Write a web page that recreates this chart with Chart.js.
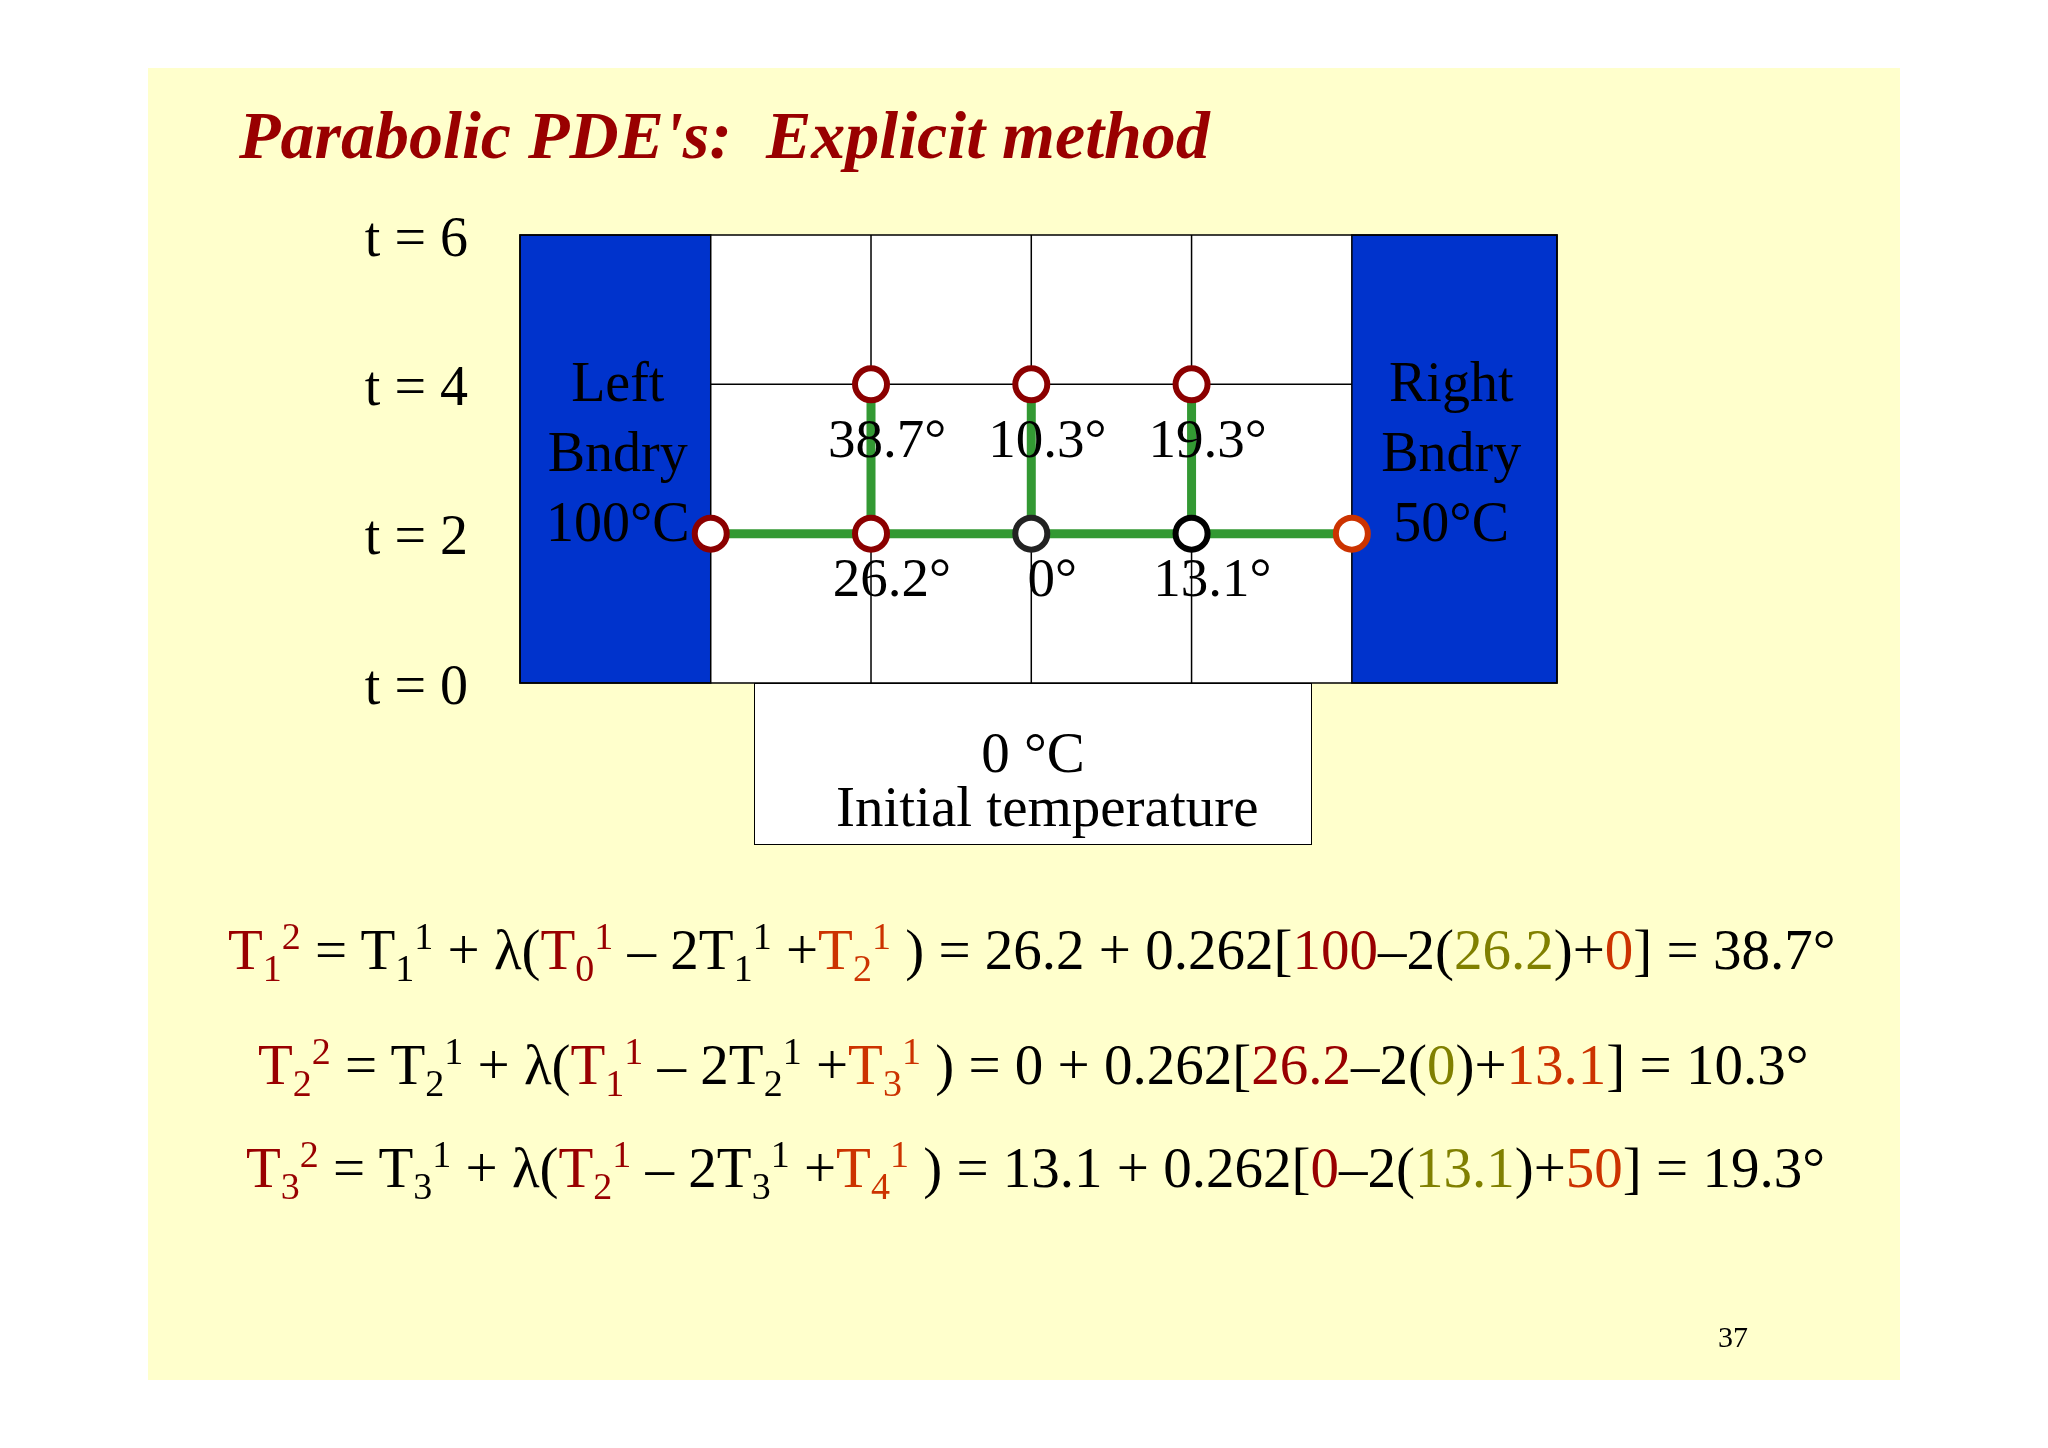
<!DOCTYPE html>
<html>
<head>
<meta charset="utf-8">
<script src="https://cdn.jsdelivr.net/npm/chart.js@4/dist/chart.umd.min.js"></script>
<style>
  body{margin:0;width:2048px;height:1448px;background:#fff;position:relative;overflow:hidden;font-family:"Liberation Serif","DejaVu Serif",serif}
  #slide{position:absolute;left:148px;top:68px;width:1752px;height:1312px;background:#FFFFCC}
  #title{position:absolute;left:239px;top:96px;font-size:68px;font-weight:bold;font-style:italic;color:#990000}
  #wrap{position:absolute;left:0;top:0;width:2048px;height:1448px}
  .eq{position:absolute;font-size:57px;white-space:nowrap;color:#000}
  .r{color:#990000}.o{color:#CC3300}.g{color:#808000}
  sub,sup{font-size:38px}
  #box{position:absolute;left:754px;top:683px;width:558px;height:162px;background:#fff;border:1.5px solid #000;box-sizing:border-box;text-align:center;font-size:57px;line-height:54px;padding-top:42px}
  #pg{position:absolute;left:1718px;top:1320px;font-size:30px}
</style>
</head>
<body>
<div id="slide"></div>
<div id="title">Parabolic PDE's:&nbsp; Explicit method</div>
<div id="box">0 °C<br>&nbsp;&nbsp;Initial temperature</div>
<div id="wrap"><canvas id="grafico"></canvas></div>
<div class="eq" style="left:228px;top:914px"><span class="r">T<sub>1</sub><sup>2</sup></span> = T<sub>1</sub><sup>1</sup> + λ(<span class="r">T<sub>0</sub><sup>1</sup></span> – 2T<sub>1</sub><sup>1</sup> +<span class="o">T<sub>2</sub><sup>1</sup></span> ) = 26.2 + 0.262[<span class="r">100</span>–2(<span class="g">26.2</span>)+<span class="o">0</span>] = 38.7°</div>
<div class="eq" style="left:258px;top:1029px"><span class="r">T<sub>2</sub><sup>2</sup></span> = T<sub>2</sub><sup>1</sup> + λ(<span class="r">T<sub>1</sub><sup>1</sup></span> – 2T<sub>2</sub><sup>1</sup> +<span class="o">T<sub>3</sub><sup>1</sup></span> ) = 0 + 0.262[<span class="r">26.2</span>–2(<span class="g">0</span>)+<span class="o">13.1</span>] = 10.3°</div>
<div class="eq" style="left:246px;top:1132px"><span class="r">T<sub>3</sub><sup>2</sup></span> = T<sub>3</sub><sup>1</sup> + λ(<span class="r">T<sub>2</sub><sup>1</sup></span> – 2T<sub>3</sub><sup>1</sup> +<span class="o">T<sub>4</sub><sup>1</sup></span> ) = 13.1 + 0.262[<span class="r">0</span>–2(<span class="g">13.1</span>)+<span class="o">50</span>] = 19.3°</div>
<div id="pg">37</div>
<script>
// datos del grafico
const tTicks = [0, 2, 4, 6]
const nodosX = [0, 1, 2, 3, 4]
const nodosT2 = [2, 2, 2, 2, 2]
const bordeT2 = ['#8B0000', '#8B0000', '#222', '#000', '#CC3300']
const nuevosX = [1, 2, 3]
const nuevosT4 = [4, 4, 4]
const valT4 = ['38.7°', '10.3°', '19.3°']
const valT2 = ['26.2°', '0°', '13.1°']

const verde = '#339933'
const datasets = []
// puntos arriba (order menor se dibuja encima)
datasets.push({data:nodosX.map((x,i)=>({x:x,y:nodosT2[i]})), backgroundColor:'#fff', borderColor:bordeT2, borderWidth:6, pointRadius:16, order:0})
datasets.push({data:nuevosX.map((x,i)=>({x:x,y:nuevosT4[i]})), backgroundColor:'#fff', borderColor:'#8B0000', borderWidth:6, pointRadius:16, order:0})
// lineas verdes
nuevosX.forEach((x, i) => {
  datasets.push({type:'line', data:[{x:x,y:nodosT2[i+1]},{x:x,y:nuevosT4[i]}], borderColor:verde, borderWidth:9, pointRadius:0, order:1})
})
datasets.push({type:'line', data:nodosX.map((x,i)=>({x:x,y:nodosT2[i]})), borderColor:verde, borderWidth:9, pointRadius:0, order:1})

const fondo = {
  id:'fondo',
  beforeDatasetsDraw(chart){
    const {ctx, scales:{x, y}} = chart
    const px = v => x.getPixelForValue(v), py = v => y.getPixelForValue(v)
    ctx.save()
    ctx.fillStyle = '#fff'
    ctx.fillRect(px(0), py(6), px(4)-px(0), py(0)-py(6))
    ctx.strokeStyle = '#000'; ctx.lineWidth = 1.5
    ;[1,2,3].forEach(v=>{ctx.beginPath();ctx.moveTo(px(v),py(6));ctx.lineTo(px(v),py(0));ctx.stroke()})
    ctx.beginPath();ctx.moveTo(px(0),py(4));ctx.lineTo(px(4),py(4));ctx.stroke()
    ctx.fillStyle = '#0033CC'
    ;[[x.min,0],[4,x.max]].forEach(([a,b])=>{
      ctx.fillRect(px(a),py(6),px(b)-px(a),py(0)-py(6))
      ctx.strokeRect(px(a),py(6),px(b)-px(a),py(0)-py(6))
    })
    ctx.strokeRect(px(x.min),py(6),px(x.max)-px(x.min),py(0)-py(6))
    ctx.font = '56px "Liberation Serif", serif'
    ctx.fillStyle = '#000'; ctx.textAlign = 'center'; ctx.textBaseline = 'middle'
    ;[['Left',-0.58,3.97],['Bndry',-0.58,3.03],['100°C',-0.58,2.1],['Right',4.62,3.97],['Bndry',4.62,3.03],['50°C',4.62,2.1]]
      .forEach(([s,a,b])=>ctx.fillText(s,px(a),py(b)))
    ctx.textAlign = 'right'
    tTicks.forEach(t=>ctx.fillText('t = '+t, px(x.min)-52, py(t)+6))
    ctx.restore()
  },
  afterDatasetsDraw(chart){
    const {ctx, scales:{x, y}} = chart
    ctx.save()
    ctx.font = '55px "Liberation Serif", serif'
    ctx.fillStyle = '#000'; ctx.textAlign = 'center'; ctx.textBaseline = 'middle'
    nuevosX.forEach((v,i)=>{
      ctx.fillText(valT4[i], x.getPixelForValue(v+0.1), y.getPixelForValue(3.22))
      ctx.fillText(valT2[i], x.getPixelForValue(v+0.13), y.getPixelForValue(1.36))
    })
    ctx.restore()
  }
}

new Chart(document.getElementById('grafico'), {
  type:'scatter',
  data:{datasets},
  options:{
    responsive:true, maintainAspectRatio:false, animation:false,
    layout:{padding:{left:520, right:491, top:235, bottom:765}},
    plugins:{legend:{display:false}, tooltip:{enabled:false}},
    scales:{
      x:{type:'linear', min:-1.19, max:5.28, display:false},
      y:{type:'linear', min:0, max:6, display:false}
    }
  },
  plugins:[fondo]
})
</script>
</body>
</html>
